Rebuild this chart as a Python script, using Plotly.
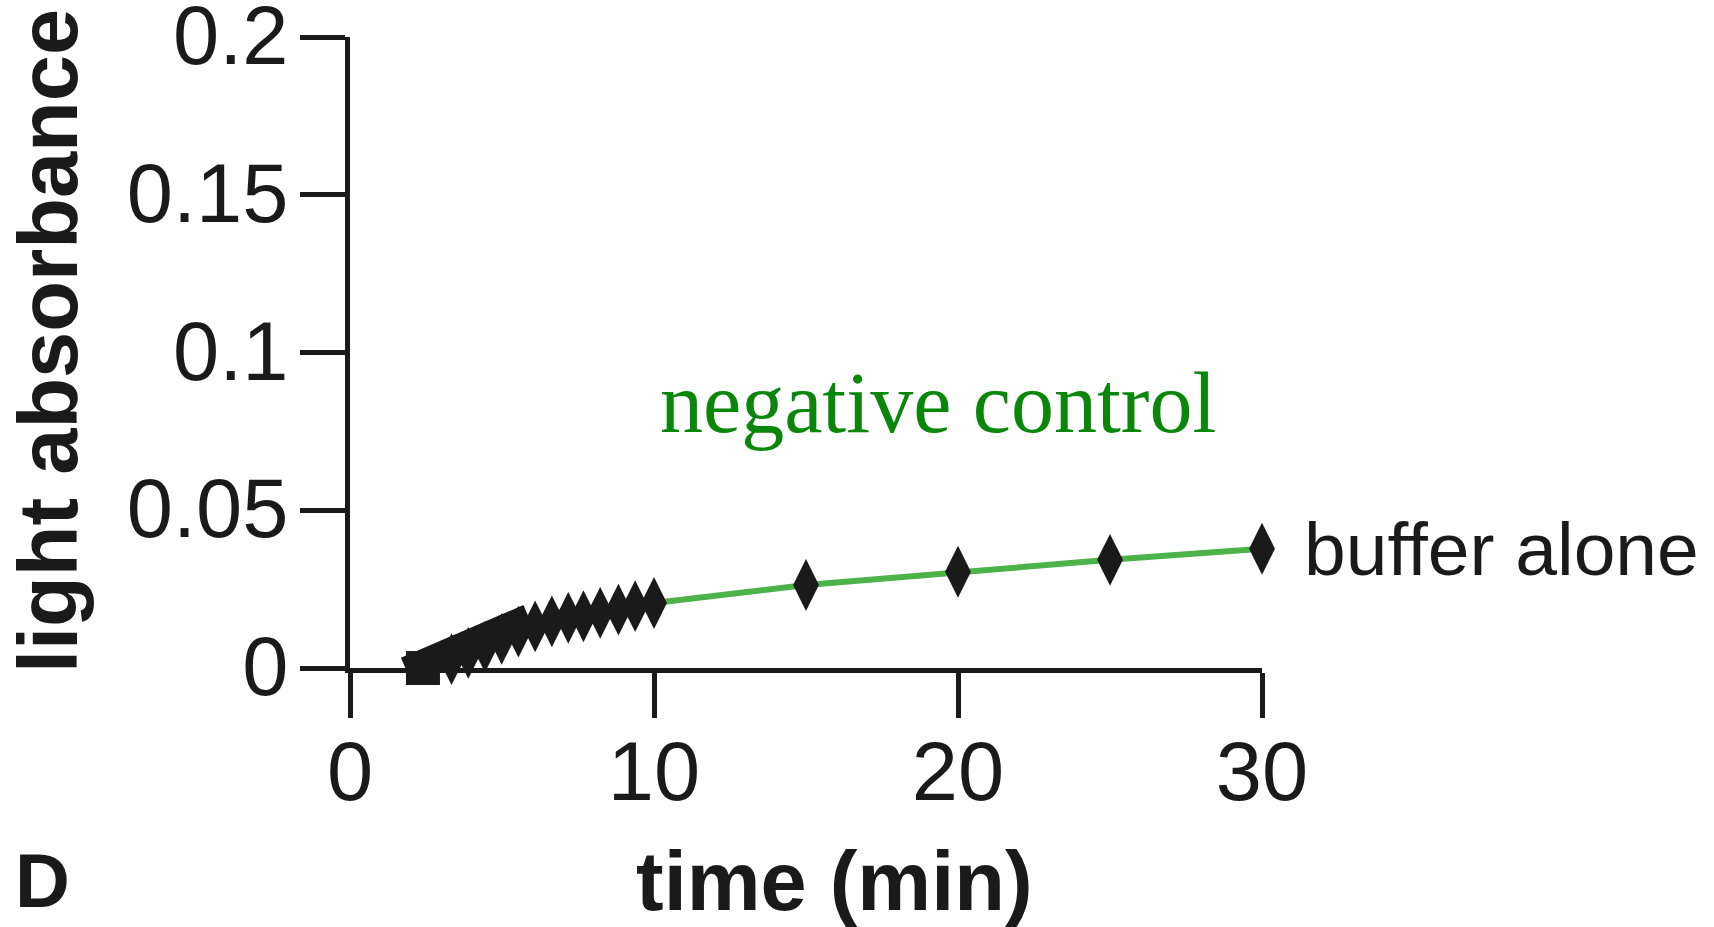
import plotly.graph_objects as go

# ---- data -------------------------------------------------------------
# buffer alone: light absorbance over time (min)
time_min = [3.34, 3.89, 4.44, 4.99, 5.54, 6.09, 6.64, 7.18, 7.68, 8.23, 8.83,
            9.38, 10.0, 15, 20, 25, 30]
absorbance = [0.0028, 0.0048, 0.0068, 0.0092, 0.0115, 0.0132, 0.0148, 0.0159,
              0.0164, 0.0175, 0.0185, 0.0196, 0.0206, 0.0263, 0.0305, 0.0343,
              0.0378]

# early rise segment (heavy black stroke) and its start point
rise_t = [1.87, 5.9]
rise_y = [-0.0011, 0.0156]
start_t = [2.4]
start_y = [0.0]
# faint lead-in stroke before the rise
lead_t = [0.83, 1.82]
lead_y = [0.0004, 0.0038]

x_ticks = [0, 10, 20, 30]
y_ticks = [0, 0.05, 0.1, 0.15, 0.2]
y_tick_text = ["0", "0.05", "0.1", "0.15", "0.2"]

# ---- figure -----------------------------------------------------------
W, H = 1714, 927
L, R, T, B = 350, 452, 37, 259
PW, PH = W - L - R, H - T - B
INK = "#1a1a1a"
SANS = "Liberation Sans, Arial, Helvetica, sans-serif"


def px(x):
    return (x - L) / PW


def py(y):
    return (H - B - y) / PH


fig = go.Figure()

fig.add_trace(go.Scatter(
    x=lead_t, y=lead_y, mode="lines",
    line=dict(color="white", width=3), cliponaxis=False, hoverinfo="skip"))

# green curve with tall diamond markers
fig.add_trace(go.Scatter(
    x=time_min, y=absorbance, mode="lines+markers",
    line=dict(color="#4cb24a", width=6),
    marker=dict(symbol="diamond-tall", size=37, color=INK, line=dict(width=0)),
    cliponaxis=False))

fig.add_trace(go.Scatter(
    x=rise_t, y=rise_y, mode="lines",
    line=dict(color=INK, width=30), cliponaxis=False, hoverinfo="skip"))

fig.add_trace(go.Scatter(
    x=start_t, y=start_y, mode="markers",
    marker=dict(symbol="square", size=34, color=INK, line=dict(width=0)),
    cliponaxis=False))

axis_common = dict(
    showline=True, linecolor=INK, linewidth=5,
    ticks="outside", ticklen=45, tickwidth=5, tickcolor=INK,
    showgrid=False, zeroline=False, layer="below traces",
    ticklabeloverflow="allow", automargin=False,
    tickfont=dict(family=SANS, size=83, color=INK),
)

fig.update_layout(
    width=W, height=H,
    margin=dict(l=L, r=R, t=T, b=B, pad=0, autoexpand=False),
    paper_bgcolor="white", plot_bgcolor="white",
    showlegend=False,
    xaxis=dict(range=[0, 30], tickvals=x_ticks, ticktext=[str(v) for v in x_ticks],
               ticklabelstandoff=-18, **axis_common),
    yaxis=dict(range=[0, 0.2], tickvals=y_ticks, ticktext=y_tick_text,
               ticklabelstandoff=-5, ticklabelshift=-2, **axis_common),
)

bold = dict(family=SANS, size=83, color=INK)

fig.add_annotation(text="<b>light absorbance</b>", textangle=-90,
                   xref="paper", yref="paper", x=px(48), y=py(341),
                   xanchor="center", yanchor="middle", showarrow=False, font=bold)
fig.add_annotation(text="<b>time (min)</b>",
                   xref="paper", yref="paper", x=px(834), y=py(881),
                   xanchor="center", yanchor="middle", showarrow=False, font=bold)
fig.add_annotation(text="<b>D</b>",
                   xref="paper", yref="paper", x=px(42), y=py(880),
                   xanchor="center", yanchor="middle", showarrow=False,
                   font=dict(family=SANS, size=76, color=INK))
fig.add_annotation(text="negative control",
                   xref="paper", yref="paper", x=px(938), y=py(403),
                   xanchor="center", yanchor="middle", showarrow=False,
                   font=dict(family="Liberation Serif, Times New Roman, serif", size=86,
                             color="#0a870a"))
fig.add_annotation(text="buffer alone",
                   x=time_min[-1], y=absorbance[-1], xref="x", yref="y",
                   xanchor="left", yanchor="middle", xshift=40, showarrow=False,
                   font=dict(family=SANS, size=75, color=INK))

fig.write_html("out.html")
